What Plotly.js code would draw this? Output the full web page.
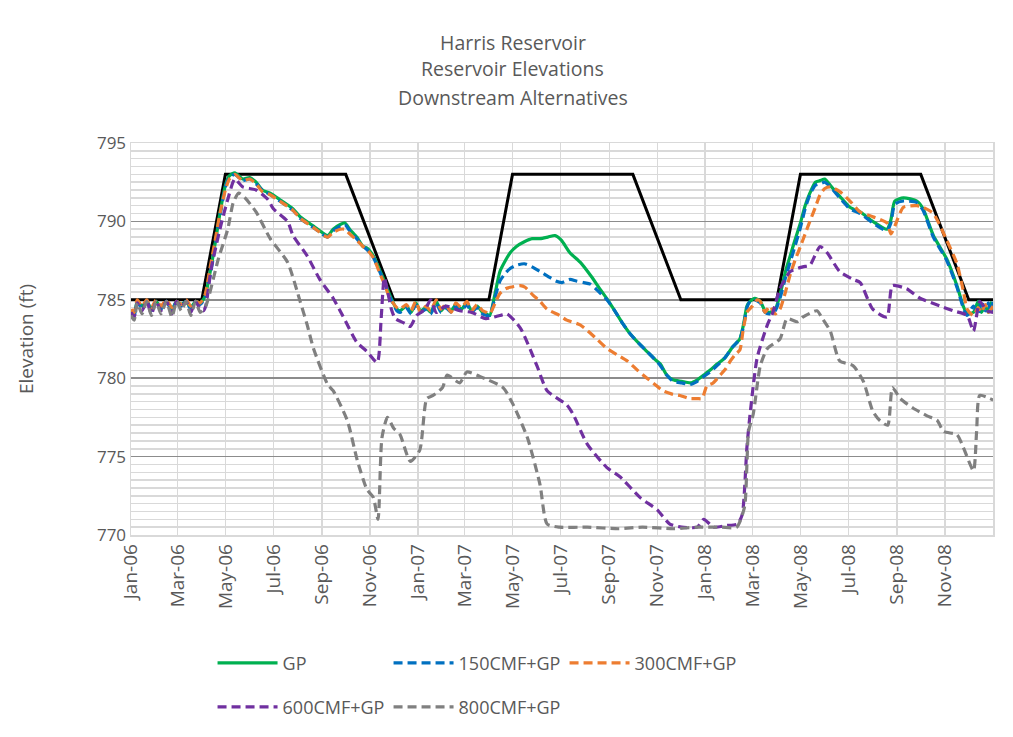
<!DOCTYPE html>
<html>
<head>
<meta charset="utf-8">
<script src="https://cdn.plot.ly/plotly-3.0.1.min.js"></script>
<style>html,body{margin:0;padding:0;background:#fff;}#chart{width:1013px;height:737px;}</style>
</head>
<body>
<div id="chart"></div>
<script>
// Days are counted from 1 Jan 2006
const ruleDays = [0, 90, 120, 273, 334, 455, 485, 638, 699, 821, 851, 1004, 1065, 1096];
const ruleVals = [785, 785, 793, 793, 785, 785, 793, 793, 785, 785, 793, 793, 785, 785];

const gpDays = [0,4,8,14,20,26,32,38,45,52,58,64,70,76,82,88,94,100,107,113,120,125,132,142,151,159,167,177,189,206,215,232,250,257,266,272,278,287,295,300,308,317,323,329,338,342,350,356,362,368,375,381,388,394,400,407,413,420,427,433,440,447,452,456,462,469,476,482,490,500,510,520,530,539,547,558,571,585,596,606,615,625,635,646,656,666,673,681,689,700,711,720,728,736,745,755,765,774,779,783,787,793,800,806,812,819,825,832,838,844,851,857,863,870,876,882,889,901,914,927,943,961,966,971,982,999,1007,1020,1037,1050,1058,1063,1071,1077,1081,1086,1090,1093,1096];
const gpVals = [784.3,784.1,784.9,784.6,784.9,784.4,784.9,784.5,784.9,784.4,784.9,784.7,784.9,784.5,784.9,784.8,785.2,786.6,788.6,790.5,792.3,792.9,793.1,792.7,792.8,792.5,792.0,791.8,791.4,790.8,790.3,789.7,789.1,789.5,789.8,789.9,789.5,789.0,788.4,788.3,787.8,786.8,786.1,785.3,784.4,784.3,784.6,784.2,784.8,784.3,784.5,784.2,784.9,784.3,784.6,784.3,784.7,784.4,784.8,784.3,784.6,784.2,784.1,784.0,785.2,786.8,787.5,788.0,788.4,788.7,788.9,788.9,789.0,789.1,788.8,788.0,787.4,786.5,785.7,785.0,784.3,783.5,782.8,782.2,781.7,781.2,780.9,780.2,779.9,779.8,779.7,779.9,780.2,780.5,780.9,781.3,782.0,782.5,783.5,784.6,784.9,785.1,784.9,784.3,784.2,784.4,785.3,786.8,787.8,788.8,789.9,791.0,791.8,792.5,792.6,792.7,792.3,791.6,790.9,790.6,790.0,789.5,790.1,791.3,791.5,791.3,790.8,789.1,787.6,785.9,784.6,784.1,784.2,784.9,784.2,784.6,784.2,784.8,784.2];

const cmf150Days = [0,4,8,14,20,26,32,38,45,52,58,64,70,76,82,88,94,100,107,113,120,125,132,142,151,159,167,177,189,206,215,232,250,257,266,272,278,287,295,300,308,317,323,329,338,342,350,356,362,368,375,381,388,394,400,407,413,420,427,433,440,447,452,456,462,469,476,482,490,500,510,520,530,540,548,558,566,575,584,593,605,615,625,635,646,656,666,673,681,689,700,711,720,728,736,745,755,765,774,779,783,787,793,800,806,812,819,825,832,838,844,851,857,863,870,876,882,889,901,914,927,943,961,966,971,982,999,1007,1020,1037,1050,1058,1063,1071,1077,1081,1086,1090,1093,1096];
const cmf150Vals = [784.2,784.0,784.8,784.5,784.9,784.3,784.9,784.4,784.9,784.3,784.9,784.6,784.9,784.4,784.9,784.7,785.1,786.4,788.4,790.3,792.2,792.8,793.0,792.6,792.7,792.4,792.0,791.7,791.3,790.7,790.2,789.6,789.0,789.4,789.7,789.8,789.4,788.9,788.4,788.2,787.7,786.7,786.0,785.2,784.3,784.2,784.5,784.1,784.7,784.2,784.4,784.1,784.8,784.2,784.5,784.2,784.6,784.3,784.7,784.2,784.5,784.1,784.0,784.0,785.0,786.2,786.7,787.0,787.2,787.3,787.1,786.8,786.5,786.2,786.1,786.3,786.2,786.1,786.0,785.6,785.0,784.3,783.5,782.8,782.2,781.7,781.2,780.8,780.2,779.8,779.7,779.6,779.8,780.1,780.4,780.8,781.3,782.0,782.5,783.4,784.5,784.9,785.0,784.8,784.2,784.1,784.3,785.1,786.4,787.4,788.4,789.6,790.8,791.7,792.3,792.4,792.5,792.2,791.5,790.8,790.5,789.9,789.4,789.9,791.1,791.3,791.2,790.7,789.0,787.5,785.8,784.5,784.0,784.6,784.1,784.9,784.3,784.8,784.2,784.9,784.0];

const cmf300Days = [0,4,8,14,20,26,32,38,45,52,58,64,70,76,82,88,94,100,107,113,120,125,132,142,151,159,167,177,189,206,215,232,250,257,266,272,278,287,295,300,308,317,323,329,338,342,350,356,362,368,375,381,388,394,400,407,413,420,427,433,440,447,452,456,463,469,476,482,495,501,511,520,529,545,554,571,590,605,618,631,644,656,666,676,687,698,710,720,726,732,740,749,756,762,768,774,778,783,790,796,800,806,812,819,825,832,838,844,851,857,863,870,876,882,889,901,914,927,943,961,966,971,982,999,1007,1020,1037,1050,1058,1063,1071,1077,1081,1086,1090,1096];
const cmf300Vals = [784.4,784.2,785.0,784.6,785.0,784.5,785.0,784.6,785.0,784.5,784.9,784.7,785.0,784.6,784.9,784.8,785.3,786.9,788.8,790.5,792.0,792.7,793.0,792.6,792.7,792.4,791.9,791.7,791.3,790.7,790.2,789.6,789.0,789.3,789.5,789.5,789.2,788.8,788.4,788.2,787.7,786.6,785.9,785.1,784.5,784.4,784.7,784.3,784.9,784.2,784.6,784.3,785.0,784.4,784.7,784.2,784.8,784.5,784.9,784.3,784.7,784.3,784.2,784.1,784.8,785.4,785.7,785.8,785.9,785.8,785.3,784.9,784.4,784.0,783.7,783.4,782.6,781.9,781.5,781.1,780.5,780.0,779.6,779.2,779.0,778.9,778.7,778.7,778.7,779.5,779.7,780.2,780.6,781.1,781.5,781.8,783.0,784.2,784.6,785.0,784.9,784.2,784.6,784.1,784.4,785.5,786.6,787.5,788.4,789.2,790.0,790.9,791.7,792.1,792.2,791.9,791.3,790.6,790.3,789.9,789.2,789.7,790.9,791.0,790.9,790.5,788.8,787.3,785.6,784.4,784.0,784.5,784.2,784.7,784.2,784.6,784.3];

const cmf600Days = [0,4,8,14,20,26,32,38,45,52,58,64,70,76,82,88,92,95,102,114,123,132,142,159,174,181,199,206,224,240,257,269,287,300,313,318,322,326,331,336,348,355,363,374,381,388,400,418,433,451,469,478,495,516,529,554,562,580,605,622,647,669,685,700,720,728,741,756,771,777,783,787,796,809,816,825,838,854,863,876,885,901,918,927,943,961,968,986,1003,1029,1045,1063,1071,1079,1088,1096];
const cmf600Vals = [784.2,783.9,784.8,784.3,784.9,784.1,784.9,784.3,784.9,784.1,784.9,784.5,784.9,784.2,784.9,784.4,784.3,784.6,787.0,789.7,791.4,792.7,792.2,792.0,791.4,790.8,790.0,789.1,787.8,786.3,785.1,784.0,782.3,781.7,781.0,783.8,786.4,785.6,784.4,783.8,783.5,783.3,784.0,784.4,785.0,784.2,784.6,784.3,784.2,783.8,784.0,784.1,783.2,780.8,779.2,778.3,777.7,775.8,774.3,773.7,772.4,771.6,770.7,770.5,770.5,771.0,770.5,770.6,770.7,771.3,775.6,777.7,781.3,783.4,784.2,785.7,786.8,787.1,787.2,788.4,788.0,786.8,786.3,786.1,784.4,783.9,785.9,785.7,785.1,784.6,784.3,784.0,783.0,784.9,784.3,784.2];

const cmf800Days = [0,4,8,14,20,26,32,38,45,52,58,64,70,76,82,88,95,111,123,130,137,145,159,177,199,215,224,232,250,257,275,288,300,308,314,319,326,334,342,355,367,376,384,396,402,418,427,444,473,486,504,520,529,545,580,620,650,690,720,750,770,780,783,785,791,800,809,825,834,847,854,872,879,889,901,918,931,943,952,962,968,978,994,1012,1025,1033,1050,1058,1071,1075,1079,1092,1096];
const cmf800Vals = [784.0,783.7,784.8,784.1,784.9,784.0,784.9,784.1,784.9,783.9,784.9,784.3,784.9,784.0,784.9,784.2,784.6,787.6,789.5,791.2,791.8,791.5,790.6,788.9,787.4,784.9,783.4,781.9,779.6,779.2,777.3,774.7,772.9,772.4,771.0,776.2,777.5,776.8,776.4,774.7,775.4,778.7,778.9,779.4,780.2,779.7,780.4,780.1,779.4,778.3,776.2,773.2,770.7,770.5,770.5,770.4,770.5,770.4,770.5,770.5,770.5,771.8,774.5,776.6,777.7,780.8,781.9,782.5,783.8,783.6,783.9,784.3,783.8,783.0,781.1,780.8,779.8,777.9,777.3,777.0,779.4,778.7,778.1,777.6,777.3,776.6,776.4,775.6,774.1,776.6,778.9,778.7,778.6];

const titleLines = ['Harris Reservoir', 'Reservoir Elevations', 'Downstream Alternatives'];
const xTickFormat = '%b-%y';

function toDate(d) {
  return new Date(Date.UTC(2006, 0, 1) + d * 86400000).toISOString().slice(0, 10);
}

const dashPat = '9px,5px';
const sm = {shape: 'spline', smoothing: 0.6};
const traces = [
  {name: 'Rule', x: ruleDays.map(toDate), y: ruleVals, mode: 'lines', line: {color: '#000000', width: 3}, showlegend: false, hoverinfo: 'skip'},
  {name: 'GP', legendrank: 1, x: gpDays.map(toDate), y: gpVals, mode: 'lines', line: Object.assign({color: '#00B050', width: 3.2}, sm), legend: 'legend'},
  {name: '150CMF+GP', legendrank: 2, x: cmf150Days.map(toDate), y: cmf150Vals, mode: 'lines', line: Object.assign({color: '#0070C0', width: 3.2, dash: dashPat}, sm), legend: 'legend'},
  {name: '300CMF+GP', legendrank: 3, x: cmf300Days.map(toDate), y: cmf300Vals, mode: 'lines', line: Object.assign({color: '#ED7D31', width: 3.2, dash: dashPat}, sm), legend: 'legend'},
  {name: '600CMF+GP', legendrank: 4, x: cmf600Days.map(toDate), y: cmf600Vals, mode: 'lines', line: Object.assign({color: '#7030A0', width: 3.2, dash: dashPat}, sm), legend: 'legend2'},
  {name: '800CMF+GP', legendrank: 5, x: cmf800Days.map(toDate), y: cmf800Vals, mode: 'lines', line: Object.assign({color: '#808080', width: 3.2, dash: dashPat}, sm), legend: 'legend2'}
];

const txt = '#595959';
const fam = 'Open Sans, Noto Sans, sans-serif';
const titleY = [42, 68, 97];
const layout = {
  width: 1013, height: 737,
  margin: {l: 131, r: 20, t: 143, b: 199},
  paper_bgcolor: '#ffffff', plot_bgcolor: '#ffffff',
  font: {family: fam, color: txt, size: 16},
  title: {text: '', font: {size: 1}},
  showlegend: true,
  xaxis: {
    type: 'date',
    range: ['2006-01-01', '2008-12-31 20:00'],
    tick0: '2006-01-01', dtick: 'M2', tickformat: xTickFormat, tickangle: -90,
    tickfont: {size: 19, color: txt},
    showgrid: true, gridcolor: '#d9d9d9', gridwidth: 1.5,
    showline: true, linecolor: '#d9d9d9', linewidth: 1.5, mirror: true,
    ticks: '', zeroline: false
  },
  yaxis: {
    range: [770, 795], dtick: 5, tick0: 770,
    tickfont: {size: 17, color: txt},
    title: {text: 'Elevation (ft)', font: {size: 19, color: txt}, standoff: 58},
    showgrid: true, gridcolor: '#8c8c8c', gridwidth: 1.5,
    minor: {dtick: 0.5, showgrid: true, gridcolor: '#d9d9d9', gridwidth: 1.5},
    showline: true, linecolor: '#d9d9d9', linewidth: 1.5, mirror: true,
    ticks: '', zeroline: false
  },
  legend: {
    orientation: 'h', x: 0.0946, xanchor: 'left', y: -0.28, yanchor: 'top',
    entrywidth: 101, entrywidthmode: 'pixels', itemwidth: 60,
    traceorder: 'normal', font: {size: 18, color: txt}, bgcolor: 'rgba(0,0,0,0)'
  },
  legend2: {
    orientation: 'h', x: 0.0946, xanchor: 'left', y: -0.392, yanchor: 'top',
    entrywidth: 101, entrywidthmode: 'pixels', itemwidth: 60,
    traceorder: 'normal', font: {size: 18, color: txt}, bgcolor: 'rgba(0,0,0,0)'
  },
  annotations: titleLines.map((t, i) => ({
    text: t, xref: 'paper', yref: 'paper', x: 0.443, y: (538 - titleY[i]) / 395,
    xanchor: 'center', yanchor: 'middle', showarrow: false, font: {size: 19.5, color: txt}
  }))
};

Plotly.newPlot('chart', traces, layout, {displayModeBar: false, staticPlot: true});
</script>
</body>
</html>
